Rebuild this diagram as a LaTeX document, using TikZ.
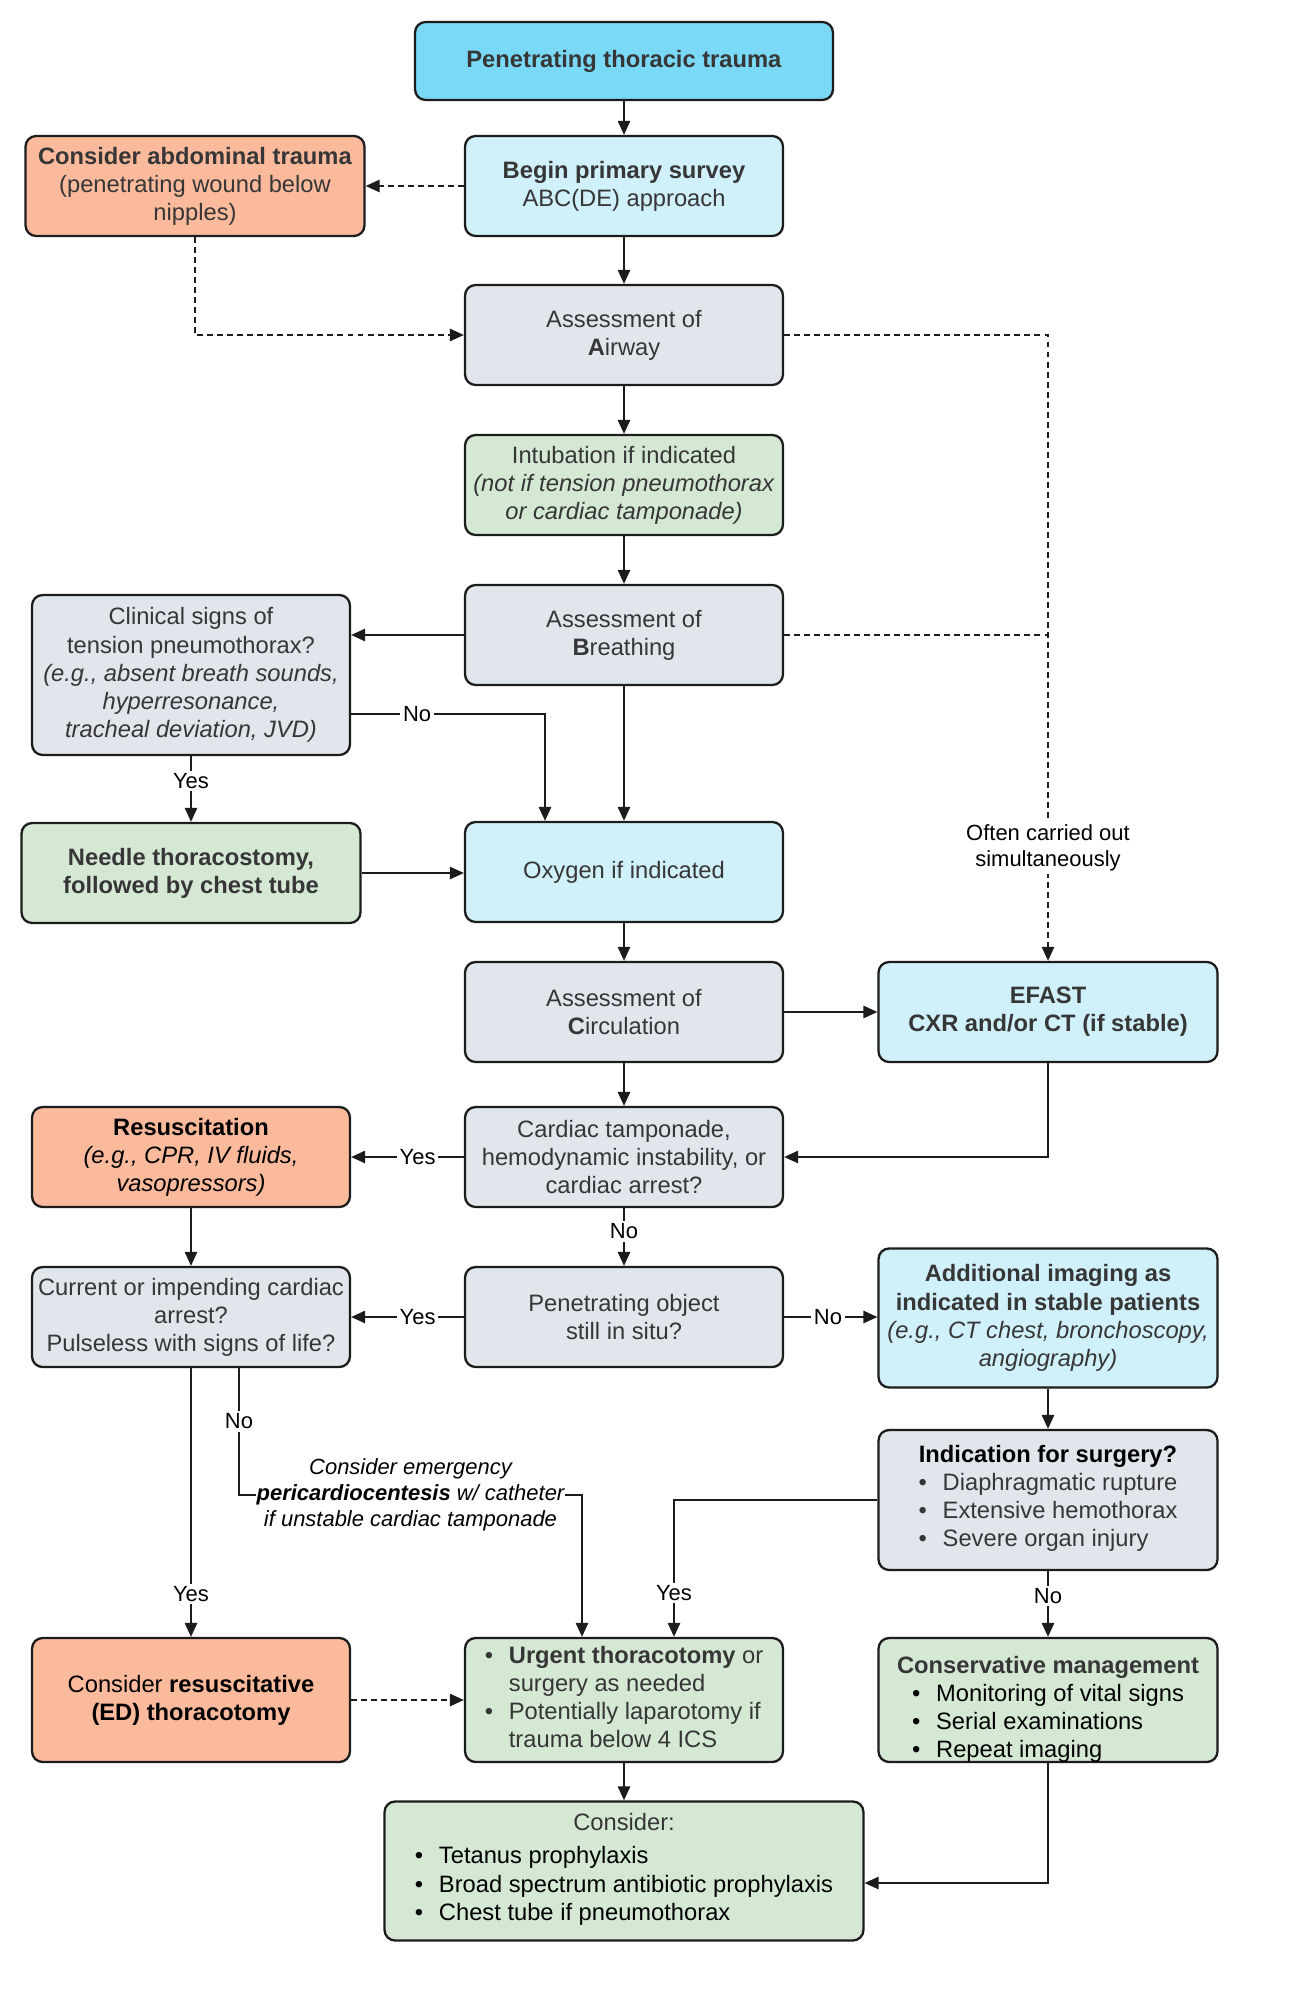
\documentclass[tikz,border=0pt]{standalone}
\usepackage{fontspec}
\setmainfont{Liberation Sans}
\usepackage{tikz}
\usepackage{xcolor}
\usetikzlibrary{arrows.meta,positioning,calc}
\definecolor{linedark}{HTML}{1C1C1C}
\definecolor{textgray}{HTML}{363636}
\definecolor{cyanhead}{HTML}{7AD9F6}
\definecolor{skyfill}{HTML}{D0F0FA}
\definecolor{greyfill}{HTML}{E1E5EC}
\definecolor{sagefill}{HTML}{D5E8D4}
\definecolor{salmonfill}{HTML}{FCBA9D}
\newcommand{\boxfont}{\fontsize{13.5}{16}\selectfont}
\newcommand{\notefont}{\fontsize{12.5}{14.7}\selectfont}
\newcommand{\dotlist}[1]{\begin{tabular}[t]{@{}l@{\hspace{9pt}}l@{}}#1\end{tabular}}
\tikzset{
  card/.style={draw=linedark,line width=1.3pt,rounded corners=6pt,
               align=center,inner sep=2pt,text=textgray,font=\boxfont,
               minimum width=6.36cm,minimum height=2cm},
  widebox/.style={minimum width=6.78cm},
  headbox/.style={fill=cyanhead},
  skybox/.style={fill=skyfill},
  greybox/.style={fill=greyfill},
  sagebox/.style={fill=sagefill},
  salmonbox/.style={fill=salmonfill},
  flowline/.style={-{Triangle[length=8pt,width=7pt]},line width=1.1pt,draw=linedark},
  dashline/.style={flowline,dash pattern=on 3.4pt off 2.3pt},
  dashplain/.style={line width=1.1pt,draw=linedark,dash pattern=on 3.4pt off 2.3pt},
  answer/.style={fill=white,inner sep=1.5pt,font=\notefont,text=black,align=center}
}

\begin{document}
\begin{tikzpicture}[x=0.02cm,y=-0.02cm]
      % page
      \path[fill=white] (0,0) rectangle (1290,2000);

      % main column
      \node[card,headbox,minimum width=8.36cm,minimum height=1.56cm] (trauma) at (624,61)
        {\textbf{Penetrating thoracic trauma}};
      \node[card,skybox] (survey) at (624,186) {\textbf{Begin primary survey}\\ABC(DE) approach};
      \node[card,greybox] (airway) at (624,335) {Assessment of\\\textbf{A}irway};
      \node[card,sagebox] (intub) at (624,485)
        {Intubation if indicated\\\textit{(not if tension pneumothorax}\\\textit{or cardiac tamponade)}};
      \node[card,greybox] (breath) at (624,635) {Assessment of\\\textbf{B}reathing};
      \node[card,skybox] (oxygen) at (624,872) {Oxygen if indicated};
      \node[card,greybox] (circ) at (624,1012) {Assessment of\\\textbf{C}irculation};
      \node[card,greybox] (tamponade) at (624,1157)
        {Cardiac tamponade,\\hemodynamic instability, or\\cardiac arrest?};
      \node[card,greybox] (insitu) at (624,1317) {Penetrating object\\still in situ?};
      \node[card,sagebox,minimum height=2.48cm] (urgent) at (624,1700)
        {\dotlist{\textbullet & \textbf{Urgent thoracotomy} or\\ & surgery as needed\\
                  \textbullet & Potentially laparotomy if\\ & trauma below 4 ICS}};
      \node[card,sagebox,text=black,minimum width=9.58cm,minimum height=2.78cm] (consider) at (624,1871)
        {\textcolor{textgray}{Consider:}\\[3pt]\dotlist{\textbullet & Tetanus prophylaxis\\
                  \textbullet & Broad spectrum antibiotic prophylaxis\\
                  \textbullet & Chest tube if pneumothorax}};

      % left column
      \node[card,salmonbox,widebox] (abdomen) at (195,186)
        {\textbf{Consider abdominal trauma}\\(penetrating wound below\\nipples)};
      \node[card,greybox,minimum height=3.2cm] (tension) at (191,675)
        {Clinical signs of\\tension pneumothorax?\\\textit{(e.g., absent breath sounds,}\\
         \textit{hyperresonance,}\\\textit{tracheal deviation, JVD)}};
      \node[card,sagebox,widebox] (needle) at (191,873)
        {\textbf{Needle thoracostomy,}\\\textbf{followed by chest tube}};
      \node[card,salmonbox,text=black] (resus) at (191,1157)
        {\textbf{Resuscitation}\\\textit{(e.g., CPR, IV fluids,}\\\textit{vasopressors)}};
      \node[card,greybox] (arrest) at (191,1317)
        {Current or impending cardiac\\arrest?\\Pulseless with signs of life?};
      \node[card,salmonbox,text=black,minimum height=2.48cm] (edthor) at (191,1700)
        {Consider \textbf{resuscitative}\\\textbf{(ED) thoracotomy}};

      % right column
      \node[card,skybox,widebox] (efast) at (1048,1012) {\textbf{EFAST}\\\textbf{CXR and/or CT (if stable)}};
      \node[card,skybox,widebox,minimum height=2.78cm] (imaging) at (1048,1318)
        {\textbf{Additional imaging as}\\\textbf{indicated in stable patients}\\
         \textit{(e.g., CT chest, bronchoscopy,}\\\textit{angiography)}};
      \node[card,greybox,widebox,minimum height=2.8cm] (surgery) at (1048,1500)
        {\textcolor{black}{\textbf{Indication for surgery?}}\\\dotlist{\textbullet & Diaphragmatic rupture\\
                  \textbullet & Extensive hemothorax\\ \textbullet & Severe organ injury}};
      % text sits low and runs over the lower edge
      \node[card,sagebox,widebox,minimum height=2.48cm] (conserv) at (1048,1700) {};
      \node[align=center,font=\boxfont,text=textgray] (conservtext) at (1048,1711)
        {\textbf{Conservative management}\\\textcolor{black}{\dotlist{\textbullet & Monitoring of vital signs\\
                  \textbullet & Serial examinations\\ \textbullet & Repeat imaging}}};

      % spine
      \draw[flowline] (trauma) -- (survey);
      \draw[flowline] (survey) -- (airway);
      \draw[flowline] (airway) -- (intub);
      \draw[flowline] (intub) -- (breath);
      \draw[flowline] (breath) -- (oxygen);
      \draw[flowline] (oxygen) -- (circ);
      \draw[flowline] (circ) -- (tamponade);
      \draw[flowline] (tamponade) -- node[answer,pos=0.4]{No} (insitu);
      \draw[flowline] (urgent) -- (consider);

      % dashed side paths
      \draw[dashline] (survey) -- (abdomen);
      \draw[dashline] (abdomen.south) |- (airway.west);
      \draw[dashline] (airway.east) -| node[answer,pos=0.91]{Often carried out\\simultaneously} (efast.north);
      \draw[dashplain] (breath.east) -- (breath.east -| efast.north);
      \draw[dashline] (edthor) -- (urgent);

      % breathing branch
      \draw[flowline] (breath.west) -- (breath.west -| tension.east);
      \draw[flowline] ($(tension.east)+(0,39)$) -| node[answer,pos=0.17]{No} ($(oxygen.north)+(-79,0)$);
      \draw[flowline] (tension) -- node[answer,pos=0.38]{Yes} (needle);
      \draw[flowline] (needle.east) -- (needle.east -| oxygen.west);

      % circulation branch
      \draw[flowline] (circ) -- (efast);
      \draw[flowline] (efast.south) |- (tamponade.east);
      \draw[flowline] (tamponade) -- node[answer,pos=0.41]{Yes} (resus);
      \draw[flowline] (resus) -- (arrest);
      \draw[flowline] (insitu) -- node[answer,pos=0.41]{Yes} (arrest);
      \draw[flowline] (insitu.east) -- node[answer,pos=0.47]{No} (insitu.east -| imaging.west);
      \draw[flowline] (imaging) -- (surgery);

      % arrest and surgery decisions
      \coordinate (pcleft) at (239,1495);
      \coordinate (pcright) at (582,1495);
      \draw[flowline] (arrest) -- node[answer,pos=0.84]{Yes} (edthor);
      \draw[flowline] (arrest.south -| pcleft) -- node[answer,pos=0.42]{No} (pcleft)
        -- node[answer,inner sep=0.5pt,font=\notefont\itshape]
             {Consider emergency\\\textbf{pericardiocentesis} w/ catheter\\if unstable cardiac tamponade} (pcright)
        -- (urgent.north -| pcright);
      \draw[flowline] (surgery.west) -| node[answer,pos=0.84]{Yes} ($(urgent.north)+(50,0)$);
      \draw[flowline] (surgery) -- node[answer,pos=0.38]{No} (conserv);
      \draw[flowline] (conserv.south) |- ($(consider.east)+(0,12)$);
\end{tikzpicture}
\end{document}
